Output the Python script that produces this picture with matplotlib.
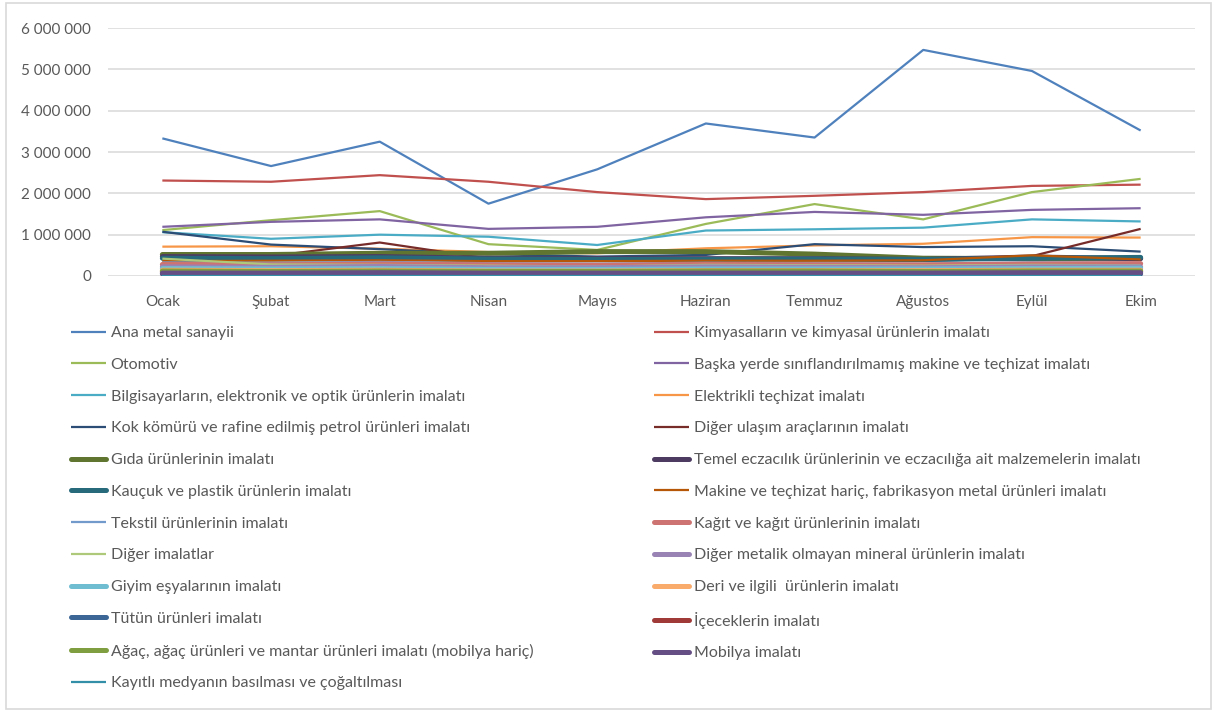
import numpy as np
import matplotlib.pyplot as plt
from matplotlib.patches import Rectangle
from matplotlib.ticker import FuncFormatter

plt.rcParams['font.family'] = ['Lato', 'DejaVu Sans']

# Months
aylar = ['Ocak', 'Şubat', 'Mart', 'Nisan', 'Mayıs', 'Haziran', 'Temmuz', 'Ağustos', 'Eylül', 'Ekim']

# Series values (million)
ana_metal = [3.33, 2.66, 3.25, 1.75, 2.58, 3.69, 3.35, 5.47, 4.96, 3.52]
kimyasal = [2.31, 2.28, 2.44, 2.28, 2.03, 1.86, 1.94, 2.03, 2.18, 2.21]
otomotiv = [1.11, 1.35, 1.57, 0.77, 0.63, 1.26, 1.74, 1.37, 2.03, 2.35]
makine_bys = [1.19, 1.31, 1.37, 1.14, 1.19, 1.42, 1.55, 1.48, 1.60, 1.64]
bilgisayar = [1.06, 0.90, 1.00, 0.95, 0.75, 1.10, 1.13, 1.17, 1.37, 1.32]
elektrikli = [0.71, 0.72, 0.66, 0.58, 0.55, 0.67, 0.74, 0.78, 0.94, 0.93]
kok = [1.07, 0.76, 0.65, 0.53, 0.47, 0.51, 0.77, 0.70, 0.72, 0.59]
diger_ulasim = [0.42, 0.48, 0.81, 0.42, 0.40, 0.38, 0.40, 0.38, 0.48, 1.14]
gida = [0.52, 0.52, 0.55, 0.55, 0.59, 0.59, 0.53, 0.43, 0.42, 0.43]
eczacilik = [0.47, 0.46, 0.47, 0.43, 0.42, 0.42, 0.42, 0.40, 0.46, 0.42]
kaucuk = [0.43, 0.42, 0.44, 0.41, 0.40, 0.40, 0.41, 0.40, 0.43, 0.45]
fabrikasyon = [0.36, 0.37, 0.38, 0.36, 0.36, 0.37, 0.37, 0.38, 0.50, 0.40]
tekstil = [0.33, 0.32, 0.34, 0.31, 0.30, 0.32, 0.31, 0.30, 0.33, 0.32]
kagit = [0.28, 0.27, 0.29, 0.27, 0.26, 0.28, 0.27, 0.27, 0.29, 0.30]
diger_imalat = [0.42, 0.28, 0.27, 0.25, 0.23, 0.27, 0.26, 0.25, 0.27, 0.26]
metalik_olmayan = [0.22, 0.21, 0.23, 0.20, 0.20, 0.22, 0.21, 0.20, 0.22, 0.22]
giyim = [0.18, 0.17, 0.18, 0.16, 0.16, 0.17, 0.17, 0.17, 0.18, 0.19]
deri = [0.14, 0.13, 0.14, 0.12, 0.12, 0.13, 0.13, 0.13, 0.14, 0.14]
tutun = [0.05, 0.05, 0.05, 0.04, 0.04, 0.05, 0.05, 0.05, 0.05, 0.05]
icecek = [0.10, 0.10, 0.11, 0.10, 0.10, 0.11, 0.11, 0.10, 0.11, 0.11]
agac = [0.12, 0.11, 0.12, 0.11, 0.11, 0.12, 0.12, 0.11, 0.12, 0.12]
mobilya = [0.07, 0.07, 0.08, 0.07, 0.07, 0.07, 0.07, 0.07, 0.08, 0.08]
kayitli = [0.01, 0.01, 0.01, 0.01, 0.01, 0.01, 0.01, 0.01, 0.01, 0.01]

etiketler = [
    'Ana metal sanayii',
    'Kimyasalların ve kimyasal ürünlerin imalatı',
    'Otomotiv',
    'Başka yerde sınıflandırılmamış makine ve teçhizat imalatı',
    'Bilgisayarların, elektronik ve optik ürünlerin imalatı',
    'Elektrikli teçhizat imalatı',
    'Kok kömürü ve rafine edilmiş petrol ürünleri imalatı',
    'Diğer ulaşım araçlarının imalatı',
    'Gıda ürünlerinin imalatı',
    'Temel eczacılık ürünlerinin ve eczacılığa ait malzemelerin imalatı',
    'Kauçuk ve plastik ürünlerin imalatı',
    'Makine ve teçhizat hariç, fabrikasyon metal ürünleri imalatı',
    'Tekstil ürünlerinin imalatı',
    'Kağıt ve kağıt ürünlerinin imalatı',
    'Diğer imalatlar',
    'Diğer metalik olmayan mineral ürünlerin imalatı',
    'Giyim eşyalarının imalatı',
    'Deri ve ilgili  ürünlerin imalatı',
    'Tütün ürünleri imalatı',
    'İçeceklerin imalatı',
    'Ağaç, ağaç ürünleri ve mantar ürünleri imalatı (mobilya hariç)',
    'Mobilya imalatı',
    'Kayıtlı medyanın basılması ve çoğaltılması',
]
seriler = [ana_metal, kimyasal, otomotiv, makine_bys, bilgisayar, elektrikli, kok,
           diger_ulasim, gida, eczacilik, kaucuk, fabrikasyon, tekstil, kagit,
           diger_imalat, metalik_olmayan, giyim, deri, tutun, icecek, agac,
           mobilya, kayitli]
renkler = ['#4F81BD', '#C0504D', '#9BBB59', '#8064A2', '#4BACC6', '#F79646',
           '#2C4D75', '#772C2A', '#5F7530', '#4D3B62', '#276A7C', '#B65708',
           '#729ACA', '#CD7371', '#AFC97A', '#9983B5', '#6FBDD1', '#F9AB6B',
           '#3C6696', '#A03A39', '#7E9E3F', '#654E84', '#338EA7']
kalin = [False, False, False, False, False, False, False, False, True, True,
         True, False, False, True, False, True, True, True, True, True, True,
         True, False]

W, H = 1213, 710
fig = plt.figure(figsize=(W / 100, H / 100), dpi=100)
ax = fig.add_axes([108 / W, 1 - 276 / H, (1195 - 108) / W, (276 - 28) / H])

x = np.arange(len(aylar))
cizgiler = []
for vals, lab, col, k in zip(seriler, etiketler, renkler, kalin):
    ln, = ax.plot(x, np.array(vals) * 1e6, color=col, lw=3.6 if k else 1.6,
                  label=lab, solid_capstyle='round' if k else 'butt')
    cizgiler.append(ln)

ax.set_xlim(-0.5, len(aylar) - 0.5)
ax.set_ylim(0, 6e6)
ax.set_yticks(np.arange(0, 6e6 + 1, 1e6))
ax.yaxis.set_major_formatter(FuncFormatter(lambda v, p: f'{int(v):,}'.replace(',', ' ')))
ax.set_xticks(x)
ax.set_xticklabels(aylar)
ax.grid(axis='y', color='#D9D9D9', lw=1.1)
ax.set_axisbelow(True)
for s in ax.spines.values():
    s.set_visible(False)
ax.tick_params(axis='both', length=0, colors='#595959', labelsize=11)
ax.tick_params(axis='y', pad=12)
ax.tick_params(axis='x', pad=14)

# legend: two columns, row-major order like the original
sol = cizgiler[0::2]
sag = cizgiler[1::2]
ortak = dict(frameon=False, fontsize=11.5, labelcolor='#595959', handlelength=2.2,
             handletextpad=0.28, labelspacing=1.1, borderpad=0, borderaxespad=0,
             loc='upper left')
fig.legend(handles=sol, labels=[h.get_label() for h in sol],
           bbox_to_anchor=(71 / W, 1 - 326 / H), **ortak)
fig.legend(handles=sag, labels=[h.get_label() for h in sag],
           bbox_to_anchor=(654 / W, 1 - 326 / H), **ortak)

fig.patches.append(Rectangle((6 / W, 1 / H), (W - 8) / W, (H - 4) / H,
                             transform=fig.transFigure, fill=False,
                             edgecolor='#D9D9D9', lw=1.2))

fig.savefig('out.png', dpi=100)
